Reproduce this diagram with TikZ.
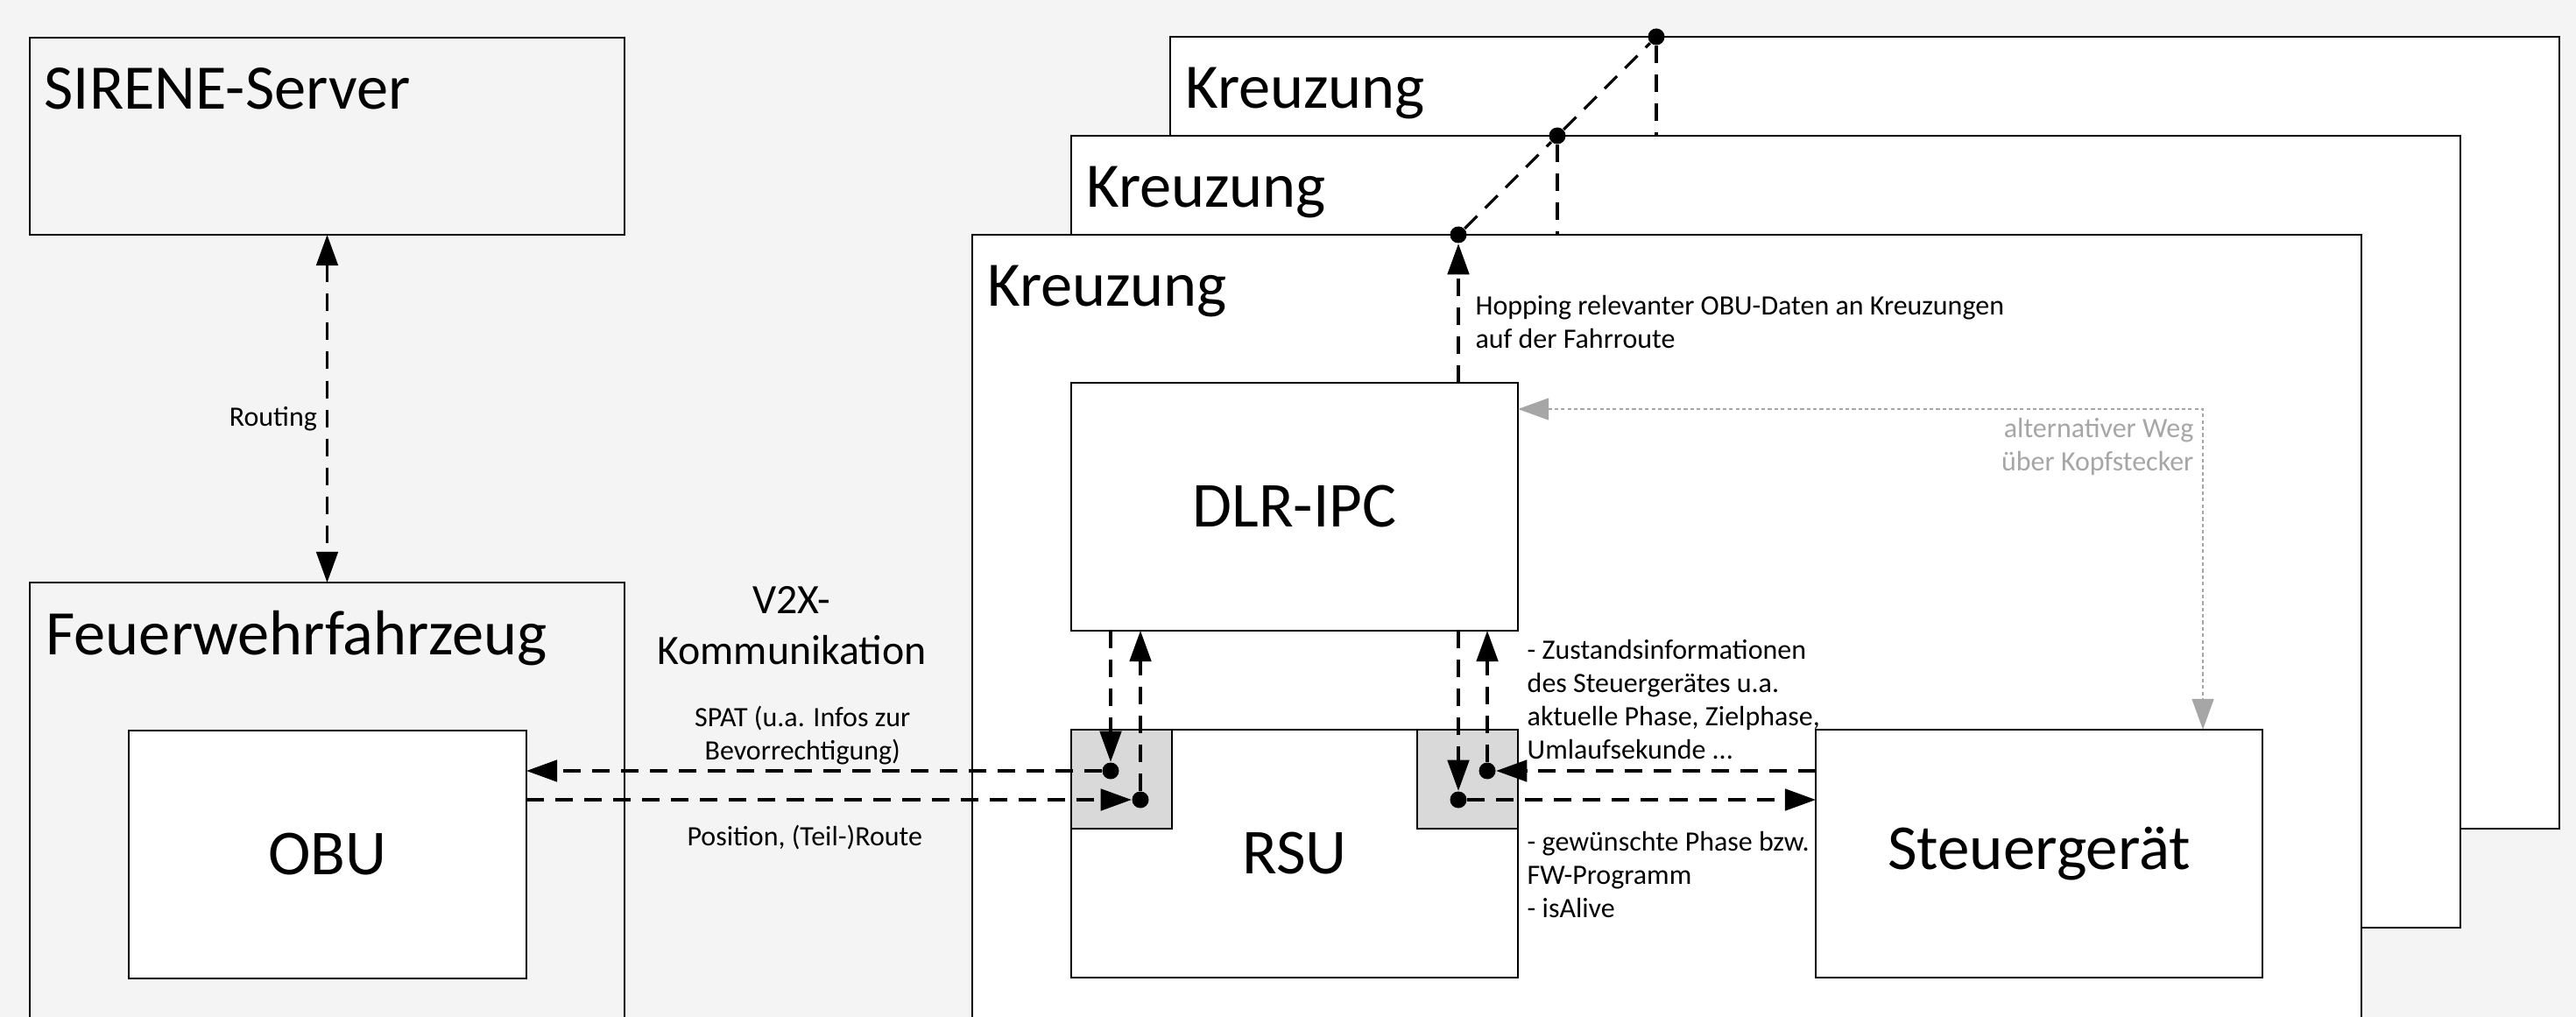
\documentclass[tikz,border=0pt]{standalone}
\usepackage{fontspec}
\setmainfont{Carlito}
\usetikzlibrary{arrows.meta}
\usetikzlibrary{positioning}

\definecolor{paper}{HTML}{F4F4F4}
\definecolor{portgray}{HTML}{D9D9D9}
\definecolor{altgray}{HTML}{A6A6A6}

\begin{document}
\begin{tikzpicture}[x=1cm, y=1cm]
  \tikzset{frame/.style={rectangle, draw, line width=0.7pt, inner sep=0pt,
      outer sep=0pt, anchor=north west}}
  \tikzset{kreuzung/.style={frame, fill=white, minimum width=15.86cm,
      minimum height=9.04cm}}
  \tikzset{unit/.style={frame, fill=white, minimum width=5.1cm,
      minimum height=2.83cm, font=\fontsize{20.8}{25}\selectfont}}
  \tikzset{port/.style={frame, fill=portgray, minimum width=1.15cm,
      minimum height=1.13cm}}
  \tikzset{title/.style={anchor=base west, inner sep=0pt,
      font=\fontsize{20.6}{25}\selectfont}}
  \tikzset{note/.style={inner sep=0.1cm, font=\fontsize{9.1}{10.8}\selectfont}}
  \tikzset{dot/.style={circle, fill, inner sep=0pt, minimum size=0.19cm}}
  \tikzset{link/.style={line width=0.9pt, dash pattern=on 5.7pt off 3.7pt}}
  \tikzset{flow/.style={link, -{Triangle[length=10pt, width=7pt]}}}
  \tikzset{both/.style={link, {Triangle[length=10pt, width=7pt]}-{Triangle[length=10pt, width=7pt]}}}
  \tikzset{alt/.style={altgray, line width=0.8pt, dash pattern=on 1.2pt off 0.9pt,
      {Triangle[length=10pt, width=7pt]}-{Triangle[length=10pt, width=7pt]}}}

  \useasboundingbox (0,0) rectangle (29.41,-11.61);
  \clip (0,0) rectangle (29.41,-11.61);
  \fill[paper] (0,0) rectangle (29.41,-11.61);

  % Leitstelle und Fahrzeug
  \node[frame, minimum width=6.79cm, minimum height=2.25cm] (server) at (0.34,-0.43) {};
  \node[title] at ([shift={(0.16,-0.82)}]server.north west) {SIRENE-Server};
  \node[frame, minimum width=6.79cm, minimum height=6cm, below=3.97cm of server] (fw) {};
  \node[title] at ([shift={(0.18,-0.82)}]fw.north west) {Feuerwehrfahrzeug};
  \node[unit, minimum width=4.54cm] (obu) at ([shift={(1.13,-1.69)}]fw.north west) {OBU};

  % Kreuzungen
  \node[kreuzung] (kr3) at (13.36,-0.42) {};
  \node[title] at ([shift={(0.17,-0.82)}]kr3.north west) {Kreuzung};
  \node[kreuzung] (kr2) at ([shift={(-1.13,-1.13)}]kr3.north west) {};
  \node[title] at ([shift={(0.17,-0.82)}]kr2.north west) {Kreuzung};
  \node[kreuzung] (kr1) at ([shift={(-1.13,-1.13)}]kr2.north west) {};
  \node[title] at ([shift={(0.17,-0.82)}]kr1.north west) {Kreuzung};

  \node[unit] (dlr) at ([shift={(1.13,-1.69)}]kr1.north west) {DLR-IPC};
  \node[unit, below=1.13cm of dlr] (rsu) {RSU};
  \node[unit, right=3.4cm of rsu] (sg) {Steuergerät};
  \node[port] (portl) at (rsu.north west) {};
  \node[port, anchor=north east] (portr) at (rsu.north east) {};

  \node[dot] (spat) at (12.68,-8.80) {};
  \node[dot] (posn) at (13.02,-9.13) {};
  \node[dot] (state) at (16.98,-8.80) {};
  \node[dot] (wish) at (16.65,-9.13) {};
  \node[dot] (hop1) at ([xshift=5.55cm]kr1.north west) {};
  \node[dot] (hop2) at ([xshift=5.55cm]kr2.north west) {};
  \node[dot] (hop3) at ([xshift=5.55cm]kr3.north west) {};

  \node[font=\fontsize{13.6}{16.4}\selectfont, align=center] (v2x) at (9.04,-7.14) {V2X-\\Kommunikation};

  % Verbindungen
  \draw[both] (server) -- node[note, left, pos=0.53] {Routing} (fw);
  \draw[flow] (spat) -- node[note, above=-0.05cm, align=center, pos=0.52]
    {SPAT (u.a. Infos zur\\Bevorrechtigung)} (spat -| obu.east);
  \draw[flow] (posn -| obu.east) -- node[note, below=0.18cm, pos=0.46]
    {Position, (Teil-)Route} (posn);
  \draw[flow] (spat |- dlr.south) -- (spat);
  \draw[flow] (posn) -- (posn |- dlr.south);
  \draw[flow] (wish |- dlr.south) -- (wish);
  \draw[flow] (state) -- (state |- dlr.south);
  \draw[flow] (state -| sg.west) -- (state);
  \draw[flow] (wish) -- (wish -| sg.west);
  \node[note, anchor=north west, align=left] at (dlr.south east)
    {- Zustandsinformationen\\des Steuergerätes u.a.\\aktuelle Phase, Zielphase,\\Umlaufsekunde ...};
  \node[note, anchor=north west, align=left, inner ysep=0.03cm] at (portr.south east)
    {- gewünschte Phase bzw.\\FW-Programm\\- isAlive};

  \draw[flow] (hop1 |- dlr.north) -- node[note, right=0.08cm, align=left, pos=0.44]
    {Hopping relevanter OBU-Daten an Kreuzungen\\auf der Fahrroute} (hop1);
  \draw[link] (hop1) -- (hop2) -- (hop3);
  \draw[link] (hop2) -- (hop2 |- kr1.north);
  \draw[link] (hop3) -- (hop3 |- kr2.north);

  \coordinate (kink) at (25.15,-4.67);
  \draw[alt] (kink -| dlr.east) -- (kink) -- (kink |- sg.north);
  \node[note, text=altgray, anchor=north east, align=right] at (kink)
    {alternativer Weg\\über Kopfstecker};
\end{tikzpicture}
\end{document}
